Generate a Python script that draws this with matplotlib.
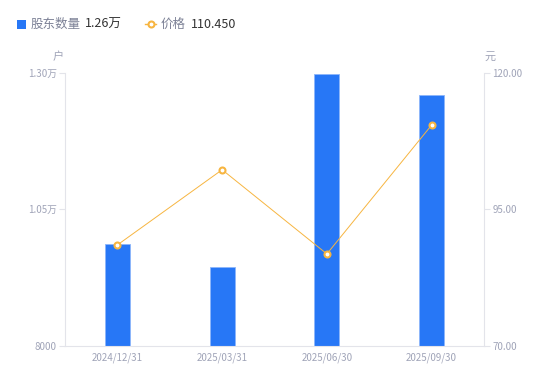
import matplotlib
matplotlib.use("Agg")
import matplotlib.pyplot as plt
from matplotlib.patches import Rectangle
from matplotlib.lines import Line2D

plt.rcParams['font.family'] = ['Noto Sans CJK SC', 'DejaVu Sans']

categories = ["2024/12/31", "2025/03/31", "2025/06/30", "2025/09/30"]
holders = [9860, 9440, 12980, 12600]
prices = [88.45, 102.25, 86.80, 110.45]
left_ticks = [8000, 10500, 13000]
left_labels = ["8000", "1.05万", "1.30万"]
right_ticks = [70, 95, 120]
right_labels = ["70.00", "95.00", "120.00"]

BLUE = "#2777F6"
ORANGE = "#F7B540"
TICK_C = "#A0A4B8"
AXIS_C = "#E3E4EA"

fig = plt.figure(figsize=(5.5, 3.81), dpi=100)
ax = fig.add_axes([65/550, 1-345.5/381, (484-65)/550, (345.5-73)/381])
ax2 = ax.twinx()

x = list(range(len(categories)))
ax.bar(x, holders, width=0.24, color=BLUE, edgecolor="#8DB6FA", linewidth=0.6, zorder=2)
ax.set_xlim(-0.5, len(categories) - 0.5)
ax.set_ylim(8000, 13000)
ax.set_yticks(left_ticks)
ax.set_yticklabels(left_labels)
ax.set_xticks(x)
ax.set_xticklabels(categories)

ax2.plot(x, prices, color=ORANGE, linewidth=0.7, marker='o', markersize=4.3,
         markerfacecolor='white', markeredgecolor=ORANGE, markeredgewidth=1.5, zorder=3)
ax2.set_ylim(70, 120)
ax2.set_yticks(right_ticks)
ax2.set_yticklabels(right_labels)

for a in (ax, ax2):
    for s in a.spines.values():
        s.set_visible(False)
ax.spines['left'].set_visible(True)
ax.spines['left'].set_color(AXIS_C)
ax.spines['bottom'].set_visible(True)
ax.spines['bottom'].set_color(AXIS_C)
ax2.spines['right'].set_visible(True)
ax2.spines['right'].set_color(AXIS_C)

ax.tick_params(axis='y', colors=AXIS_C, labelcolor=TICK_C, labelsize=7, length=4, width=0.8, pad=2)
ax.tick_params(axis='x', length=0, labelcolor=TICK_C, labelsize=7, pad=5)
ax2.tick_params(axis='y', colors=AXIS_C, labelcolor=TICK_C, labelsize=7, length=4, width=0.8, pad=2)

fig.text(58/550, 1-57/381, "户", color=TICK_C, fontsize=8, ha='center', va='center')
fig.text(490/550, 1-57/381, "元", color=TICK_C, fontsize=8, ha='center', va='center')

# legend
ly = 1 - 24/381
fig.patches.append(Rectangle((17/550, 1-28.5/381), 8.5/550, 8.5/381, transform=fig.transFigure,
                             facecolor=BLUE, edgecolor='none'))
fig.text(31/550, ly, "股东数量", color="#7C8196", fontsize=9, va='center')
fig.text(85/550, ly, f"{holders[-1]/10000:.2f}万", color="#333333", fontsize=9, va='center')
fig.lines.append(Line2D([145/550, 156/550], [ly, ly], transform=fig.transFigure, color=ORANGE,
                        linewidth=1))
fig.lines.append(Line2D([150.5/550], [ly], transform=fig.transFigure, color=ORANGE, linestyle='none',
                        marker='o', markersize=4.3, markerfacecolor='white', markeredgewidth=1.5))
fig.text(161/550, ly, "价格", color="#7C8196", fontsize=9, va='center')
fig.text(191/550, ly, f"{prices[-1]:.3f}", color="#333333", fontsize=9, va='center')

fig.savefig("out.png", dpi=100)
